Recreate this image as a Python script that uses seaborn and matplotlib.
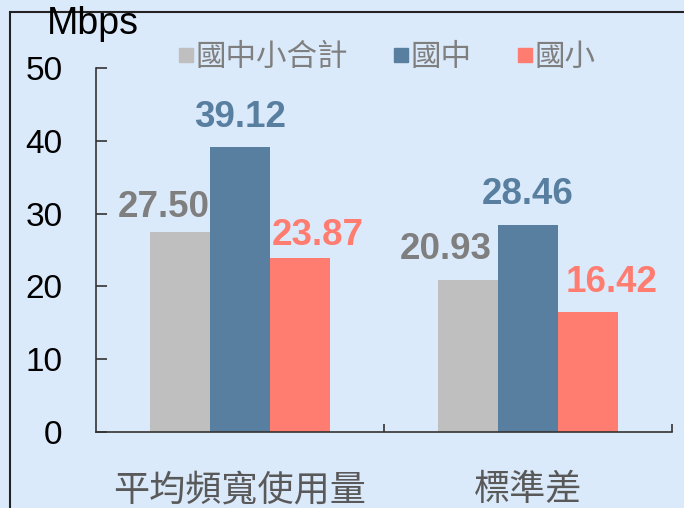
import matplotlib
matplotlib.use('Agg')
import matplotlib.pyplot as plt
from matplotlib.lines import Line2D
from matplotlib.patches import Rectangle
import seaborn as sns
import pandas as pd

# data
categories = ['平均頻寬使用量', '標準差']
groups = ['國中小合計', '國中', '國小']
total_values = [27.50, 20.93]
junior_values = [39.12, 28.46]
elementary_values = [23.87, 16.42]
y_ticks = [0, 10, 20, 30, 40, 50]

bar_colors = ['#bfbfbf', '#587f9f', '#ff7c70']
label_colors = ['#7f7f7f', '#587f9f', '#ff7c70']
bg = '#dbeafb'

df = pd.DataFrame({
    'category': categories * 3,
    'group': [g for g in groups for _ in categories],
    'value': total_values + junior_values + elementary_values,
})

sns.set_theme(style='white')
plt.rcParams['font.family'] = ['Liberation Sans', 'Noto Sans CJK TC', 'DejaVu Sans']

fig = plt.figure(figsize=(6.84, 5.08), dpi=100, facecolor=bg)
ax = fig.add_axes([96 / 684, 1 - 432 / 508, 576 / 684, 364 / 508])
ax.set_facecolor(bg)

# outer frame (left and top lines visible)
fig.patches.append(Rectangle((10 / 684, -0.1), 1.2, 1.1 - 12 / 508, transform=fig.transFigure,
                             fill=False, edgecolor='#222222', linewidth=1.5))

sns.barplot(data=df, x='category', y='value', hue='group', hue_order=groups,
            palette=bar_colors, width=0.625, gap=0, saturation=1, linewidth=0,
            edgecolor='none', ax=ax, legend=False)

# value labels, nudged like the reference
offsets = [[(-12, 5), (-16, 9)], [(0, 9), (0, 9)], [(13, 4), (17, 9)]]
for gi, cont in enumerate(ax.containers):
    for ci, bar in enumerate(cont):
        x = bar.get_x() + bar.get_width() / 2
        h = bar.get_height()
        ax.annotate(f'{h:.2f}', (x, h), xytext=offsets[gi][ci], textcoords='offset points',
                    ha='center', va='bottom', fontsize=26.5, fontweight='bold',
                    color=label_colors[gi])

ax.set_xlim(-0.5, 1.5)
ax.set_ylim(0, 50)
ax.set_yticks(y_ticks)
ax.set_yticklabels([str(t) for t in y_ticks], fontsize=24, color='black')
ax.set_xticks([0.5, 1.5])
ax.set_xticklabels([])
ax.set_xticks([0, 1], minor=True)
ax.set_xticklabels(categories, minor=True, fontsize=26, color='#595959',
                   family=['Noto Sans CJK TC'])
ax.tick_params(axis='x', which='minor', length=0, pad=29, bottom=True)
ax.tick_params(axis='x', which='major', direction='in', length=6, width=1.2,
               color='#333333', bottom=True)
ax.tick_params(axis='y', direction='in', length=8, width=1.2, color='#333333', pad=24,
               left=True)
ax.set_xlabel('')
ax.set_ylabel('')
for s in ['top', 'right']:
    ax.spines[s].set_visible(False)
for s in ['left', 'bottom']:
    ax.spines[s].set_color('#333333')
    ax.spines[s].set_linewidth(1.2)

fig.text(47 / 684, 1 - 24 / 508, 'Mbps', fontsize=27, va='center', ha='left', color='black')

handles = [Line2D([], [], marker='s', linestyle='', markersize=9.5, color=c) for c in bar_colors]
fig.legend(handles, groups, loc='center left', bbox_to_anchor=(150 / 684, 1 - 57 / 508),
           ncol=3, frameon=False, labelcolor='#7f7f7f', handlelength=0.55,
           handletextpad=0.05, columnspacing=1.45, prop={'family': ['Noto Sans CJK TC'], 'size': 22})

fig.savefig('out.png', dpi=100, facecolor=bg)
